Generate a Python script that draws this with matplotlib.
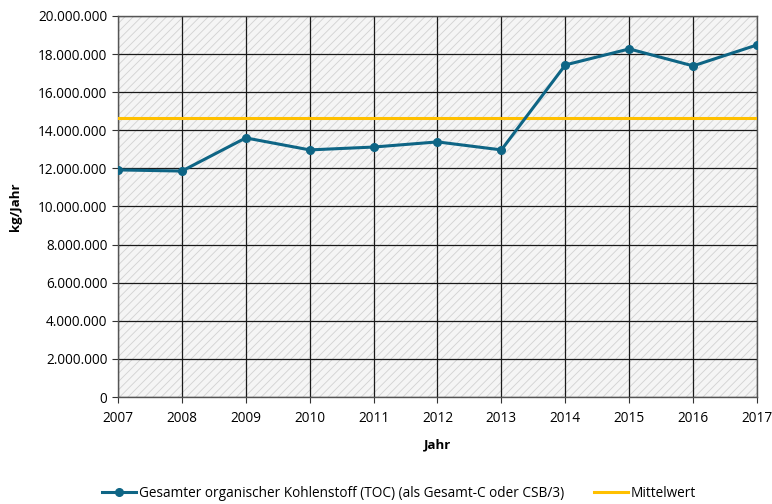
import matplotlib.pyplot as plt
from matplotlib.patches import Rectangle
from matplotlib.ticker import FuncFormatter, MultipleLocator

plt.rcParams['font.family'] = ['Open Sans', 'DejaVu Sans']
plt.rcParams['hatch.linewidth'] = 0.6
plt.rcParams['hatch.color'] = '#d2d2d2'

years = [2007, 2008, 2009, 2010, 2011, 2012, 2013, 2014, 2015, 2016, 2017]
toc = [11920000, 11860000, 13600000, 12970000, 13120000, 13390000,
       12970000, 17430000, 18270000, 17380000, 18480000]
mean_value = 14650000

fig = plt.figure(figsize=(7.72, 5.04), dpi=100)
ax = fig.add_axes([0.1528, 0.2123, 0.8278, 0.756])

ax.set_facecolor('#f5f5f5')
bg = Rectangle((0, 0), 1, 1, transform=ax.transAxes, facecolor='#f5f5f5',
               edgecolor='#d2d2d2', hatch='/' * 4, linewidth=0, zorder=0)
ax.add_patch(bg)

ax.plot(years, toc, color='#0e6585', linewidth=2.2, marker='o', markersize=5.5,
        label='Gesamter organischer Kohlenstoff (TOC) (als Gesamt-C oder CSB/3)', zorder=4)
ax.axhline(mean_value, color='#ffc000', linewidth=2.2, label='Mittelwert', zorder=3)

ax.set_xlim(2007, 2017)
ax.set_ylim(0, 20000000)
ax.xaxis.set_major_locator(MultipleLocator(1))
ax.yaxis.set_major_locator(MultipleLocator(2000000))
ax.yaxis.set_major_formatter(FuncFormatter(lambda v, p: f"{int(v):,}".replace(',', '.')))
ax.grid(True, color='#1a1a1a', linewidth=0.9, zorder=1)
ax.set_axisbelow(True)
for s in ax.spines.values():
    s.set_color('#555555')
    s.set_linewidth(1.0)
ax.tick_params(axis='both', labelsize=9.8, direction='out', length=4, color='#333333')
ax.tick_params(axis='x', pad=6)

ax.set_xlabel('Jahr', fontsize=9.5, fontweight='bold', labelpad=9)
ax.set_ylabel('kg/Jahr', fontsize=9.5, fontweight='bold', labelpad=12)

ax.legend(loc='lower center', bbox_to_anchor=(0.44, -0.305), ncol=2, frameon=False,
          fontsize=9.8, handlelength=2.5, columnspacing=2.2, handletextpad=0.2)

fig.savefig('out.png', dpi=100)
